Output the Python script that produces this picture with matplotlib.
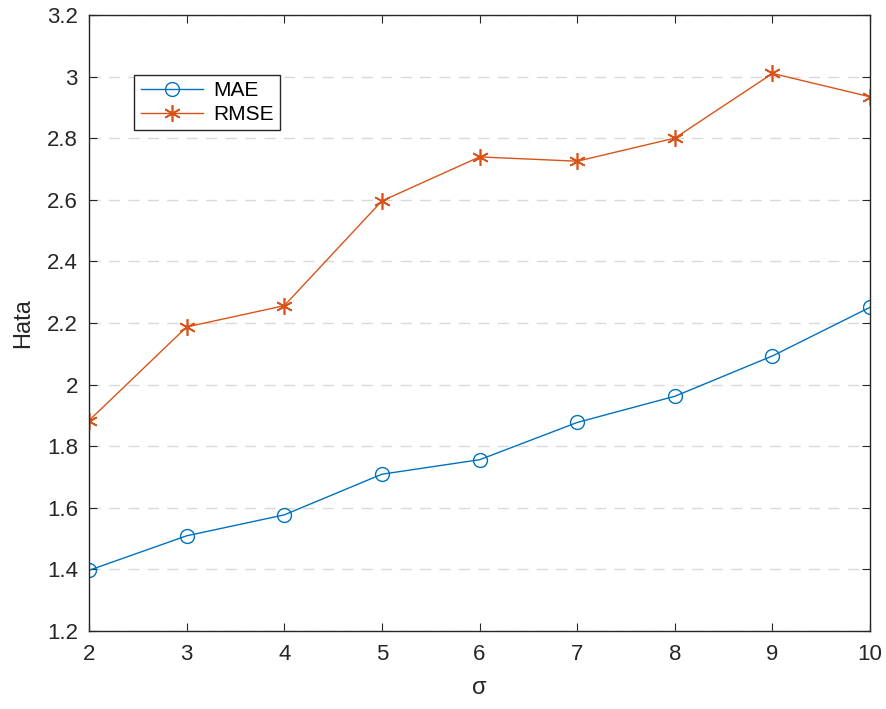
import numpy as np
import matplotlib.pyplot as plt

plt.rcParams['font.family'] = ['Liberation Sans', 'DejaVu Sans']
plt.rcParams['font.size'] = 15

sigma = [2, 3, 4, 5, 6, 7, 8, 9, 10]
mae = [1.397, 1.509, 1.577, 1.709, 1.756, 1.877, 1.962, 2.093, 2.251]
rmse = [1.883, 2.187, 2.256, 2.596, 2.739, 2.725, 2.800, 3.010, 2.934]

fig = plt.figure(figsize=(8.87, 7.09), dpi=100)
ax = fig.add_axes([0.1003, 0.110, 0.8807, 0.869])

ax.plot(sigma, mae, color='#0072BD', lw=1.0, marker='o', ms=10,
        mfc='none', mew=1.0, label='MAE')
ax.plot(sigma, rmse, color='#D95319', lw=1.0, marker=(6, 2, 0), ms=12,
        mew=1.2, label='RMSE')

ax.set_xlim(2, 10)
ax.set_ylim(1.2, 3.2)
ax.set_xticks(sigma)
yt = [1.2, 1.4, 1.6, 1.8, 2.0, 2.2, 2.4, 2.6, 2.8, 3.0, 3.2]
ax.set_yticks(yt)
ax.set_yticklabels(['1.2', '1.4', '1.6', '1.8', '2', '2.2', '2.4', '2.6', '2.8', '3', '3.2'])
ax.yaxis.grid(True, ls=(0, (8, 6)), color='#d9d9d9', lw=1.0)
ax.set_axisbelow(True)

for s in ax.spines.values():
    s.set_color('#262626')
    s.set_linewidth(1.0)
ax.tick_params(direction='in', length=6, top=True, right=True,
               colors='#262626', labelcolor='#262626', labelsize=16)
ax.tick_params(axis='y', pad=8)
ax.tick_params(axis='x', pad=9)

ax.set_xlabel('σ', fontsize=17, color='#262626', labelpad=9)
ax.set_ylabel('Hata', fontsize=17, color='#262626', labelpad=9)

leg = ax.legend(loc='upper left', bbox_to_anchor=(0.058, 0.903), fancybox=False,
                edgecolor='#262626', framealpha=1, fontsize=15,
                handlelength=3.0, handletextpad=0.5, borderpad=0.3,
                labelspacing=0.25, borderaxespad=0)
leg.get_frame().set_linewidth(1.0)

fig.savefig('out.png', dpi=100)
